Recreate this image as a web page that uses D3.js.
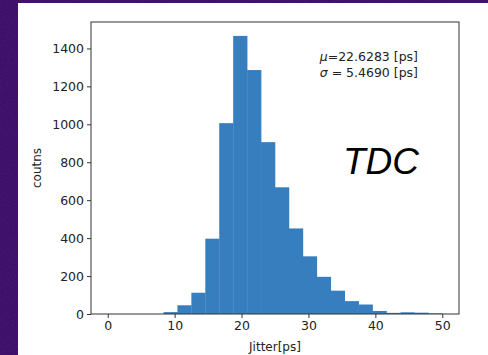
<!DOCTYPE html>
<html>
<head>
<meta charset="utf-8">
<script src="https://cdn.jsdelivr.net/npm/d3@7"></script>
<style>
  html, body { margin: 0; padding: 0; background: #330b5e; }
  svg { display: block; }
</style>
</head>
<body>
<div id="chart"></div>
<script>
// histogram of jitter, 24 bins from 0 to 50 ps
const binStart = 0;
const binEnd = 50;
const binCounts = [0, 0, 0, 0, 10, 46, 112, 397, 1006, 1466, 1286, 906,
                   668, 451, 304, 196, 123, 68, 50, 16, 6, 9, 7, 3];
const xTicks = [0, 10, 20, 30, 40, 50];
const yTicks = [0, 200, 400, 600, 800, 1000, 1200, 1400];
const statLines = ['=22.6283 [ps]', ' = 5.4690 [ps]'];
const statSymbols = ['\u03bc', '\u03c3'];

const width = 488, height = 355;
const margin = { top: 22, right: 29, bottom: 41, left: 91 };
const plotW = width - margin.left - margin.right;
const plotH = height - margin.top - margin.bottom;

const svg = d3.select('#chart').append('svg')
  .attr('width', width)
  .attr('height', height);

// noisy purple backdrop
const defs = svg.append('defs');
const noise = defs.append('filter').attr('id', 'noise');
noise.append('feTurbulence').attr('type', 'fractalNoise')
  .attr('baseFrequency', 0.9).attr('numOctaves', 2).attr('seed', 3);
noise.append('feColorMatrix').attr('values',
  '0 0 0 0 0.2  0 0 0 0 0.03  0 0 0 0 0.4  0 0 0 0.6 0');
svg.append('rect').attr('width', width).attr('height', height).attr('fill', '#330b5e');
svg.append('rect').attr('width', width).attr('height', height)
  .attr('filter', 'url(#noise)').attr('opacity', 0.6);

// white panel
svg.append('rect').attr('x', 18).attr('y', 3)
  .attr('width', width - 18).attr('height', height - 3).attr('fill', '#ffffff');

const g = svg.append('g').attr('transform', `translate(${margin.left},${margin.top})`);

const binW = (binEnd - binStart) / binCounts.length;
const bins = binCounts.map((c, i) => ({ x0: binStart + i * binW, x1: binStart + (i + 1) * binW, count: c }));

const pad = (binEnd - binStart) * 0.05;
const x = d3.scaleLinear().domain([binStart - pad, binEnd + pad]).range([0, plotW]);
const y = d3.scaleLinear().domain([0, d3.max(binCounts) * 1.05]).range([plotH, 0]);

g.selectAll('.bar')
  .data(bins)
  .enter().append('rect')
  .attr('class', 'bar')
  .attr('x', d => x(d.x0))
  .attr('width', d => x(d.x1) - x(d.x0) + 0.3)
  .attr('y', d => y(d.count))
  .attr('height', d => y(0) - y(d.count))
  .attr('fill', '#377ebf');

// axes
const font = 'DejaVu Sans, sans-serif';
const xAxis = g.append('g').attr('transform', `translate(0,${plotH})`)
  .call(d3.axisBottom(x).tickValues(xTicks).tickFormat(d3.format('d')).tickSize(4).tickPadding(3));
const yAxis = g.append('g')
  .call(d3.axisLeft(y).tickValues(yTicks).tickFormat(d3.format('d')).tickSize(4).tickPadding(3));
[xAxis, yAxis].forEach(a => {
  a.select('.domain').remove();
  a.selectAll('line').attr('stroke', '#333');
  a.selectAll('text').attr('font-family', font).attr('font-size', 12.5).attr('fill', '#222');
});

// frame
g.append('rect').attr('width', plotW).attr('height', plotH)
  .attr('fill', 'none').attr('stroke', '#333').attr('stroke-width', 1);

// axis labels
svg.append('text')
  .attr('x', margin.left + plotW / 2).attr('y', 351)
  .attr('text-anchor', 'middle')
  .attr('font-family', font).attr('font-size', 12).attr('fill', '#222')
  .text('Jitter[ps]');
svg.append('text')
  .attr('transform', `translate(41,${margin.top + plotH / 2}) rotate(-90)`)
  .attr('text-anchor', 'middle')
  .attr('font-family', font).attr('font-size', 12).attr('fill', '#222')
  .text('coutns');

// stats annotation
statLines.forEach((s, i) => {
  const t = svg.append('text')
    .attr('x', 418).attr('y', 61 + i * 16)
    .attr('text-anchor', 'end')
    .attr('font-family', font).attr('font-size', 12.5).attr('fill', '#222');
  t.append('tspan').attr('font-style', 'italic').text(statSymbols[i]);
  t.append('tspan').text(s);
});

// TDC label
svg.append('text')
  .attr('x', 343).attr('y', 174)
  .attr('font-family', 'Liberation Sans, Arial, sans-serif')
  .attr('font-style', 'italic').attr('font-size', 37).attr('fill', '#000')
  .text('TDC');
</script>
</body>
</html>
